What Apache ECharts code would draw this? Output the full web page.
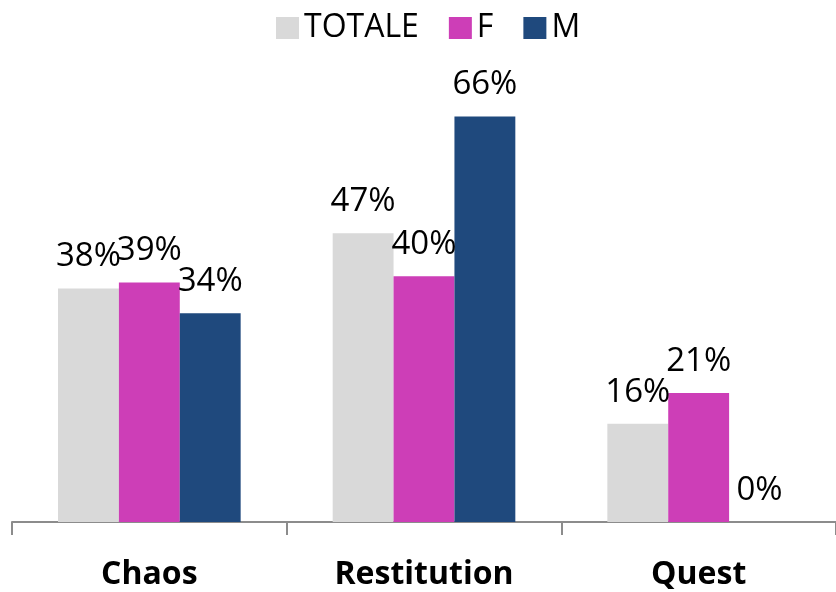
<!DOCTYPE html>
<html>
<head>
<meta charset="utf-8">
<title>Chaos / Restitution / Quest</title>
<script src="https://cdn.jsdelivr.net/npm/echarts@6/dist/echarts.min.js"></script>
<style>
  html, body { margin: 0; padding: 0; background: #ffffff; }
  #chart { width: 836px; height: 592px; }
</style>
</head>
<body>
<div id="chart"></div>
<script>
// Categories and percentage values per group
const categories = ['Chaos', 'Restitution', 'Quest'];
const seriesNames = ['TOTALE', 'F', 'M'];
const totaleValues = [38, 47, 16];
const fValues = [39, 40, 21];
const mValues = [34, 66, 0];

const colors = ['#d9d9d9', '#cd3eb7', '#1f497d'];
const FONT = '"Open Sans", "Liberation Sans", sans-serif';

function makeSeries(name, data, color) {
  return {
    name: name,
    type: 'bar',
    data: data,
    barGap: '0%',
    barCategoryGap: '33.5%',
    itemStyle: { color: color },
    label: {
      show: true,
      position: 'top',
      distance: 15,
      formatter: '{c}%',
      fontFamily: FONT,
      fontSize: 33,
      color: '#000000'
    }
  };
}

const chart = echarts.init(document.getElementById('chart'), null, { renderer: 'canvas' });
chart.setOption({
  animation: false,
  backgroundColor: '#ffffff',
  legend: {
    data: seriesNames,
    top: 7,
    left: 271,
    itemWidth: 23,
    itemHeight: 22,
    itemGap: 30,
    icon: 'rect',
    textStyle: { fontFamily: FONT, fontSize: 32, color: '#000000' }
  },
  grid: { left: 12, right: -2, top: 92, bottom: 70, containLabel: false },
  xAxis: {
    type: 'category',
    data: categories,
    axisLine: { show: true, lineStyle: { color: '#8c8c8c', width: 2 } },
    axisTick: { show: true, length: 13, lineStyle: { color: '#8c8c8c', width: 2 } },
    axisLabel: {
      margin: 37,
      fontFamily: FONT,
      fontSize: 32,
      fontWeight: 'bold',
      color: '#000000'
    }
  },
  yAxis: {
    type: 'value',
    min: 0,
    max: 70,
    show: false,
    splitLine: { show: false }
  },
  series: [
    makeSeries(seriesNames[0], totaleValues, colors[0]),
    makeSeries(seriesNames[1], fValues, colors[1]),
    makeSeries(seriesNames[2], mValues, colors[2])
  ]
});
</script>
</body>
</html>
